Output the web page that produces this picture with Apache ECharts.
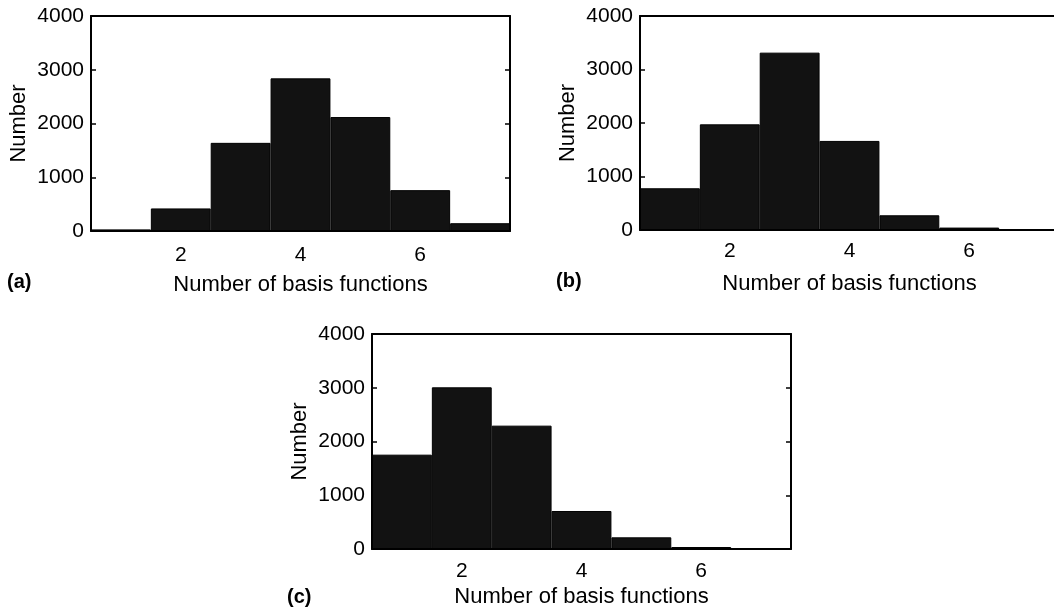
<!DOCTYPE html>
<html>
<head>
<meta charset="utf-8">
<script src="https://cdn.jsdelivr.net/npm/echarts@6/dist/echarts.min.js"></script>
<style>
  html, body { margin: 0; padding: 0; background: #fff; }
  #chart { width: 1054px; height: 607px; }
</style>
</head>
<body>
<div id="chart"></div>
<script>
// histogram bins (number of basis functions) and counts per panel
const categories = ['1', '2', '3', '4', '5', '6', '7'];
const countsA = [30, 420, 1640, 2840, 2120, 760, 145];
const countsB = [780, 1975, 3315, 1665, 275, 45, 5];
const countsC = [1755, 3008, 2295, 707, 217, 37, 5];
const panelTags = ['(a)', '(b)', '(c)'];
const xName = 'Number of basis functions';
const yName = 'Number';

const font = "'Liberation Sans', Arial, Helvetica, sans-serif";

// every second bin gets a label: 2, 4, 6
const everyOther = (i) => i % 2 === 1;

// panel (b) runs past the right edge of the page, as in the source figure
const panels = [
  { data: countsA, grid: { left: 91, top: 16, width: 419, height: 215 }, tag: { left: 7, top: 272 }, labelMargin: 14, nameGap: 43 },
  { data: countsB, grid: { left: 640, top: 16, width: 419, height: 214 }, tag: { left: 556, top: 271 }, labelMargin: 11, nameGap: 43 },
  { data: countsC, grid: { left: 372, top: 334, width: 419, height: 215 }, tag: { left: 287, top: 587 }, labelMargin: 12, nameGap: 37 },
];

const blackLine = { color: '#000', width: 2 };
const tickStyle = { color: '#000', width: 1.5 };

const grid = [];
const xAxis = [];
const yAxis = [];
const series = [];
const title = [];

panels.forEach((p, i) => {
  grid.push(Object.assign({ containLabel: false, outerBoundsMode: 'none' }, p.grid));

  xAxis.push({
    gridIndex: i,
    type: 'category',
    data: categories,
    position: 'bottom',
    axisLine: { onZero: false, lineStyle: blackLine },
    axisTick: { inside: true, alignWithLabel: true, interval: everyOther, length: 5, lineStyle: tickStyle },
    axisLabel: { interval: everyOther, color: '#000', fontSize: 21, fontFamily: font, margin: p.labelMargin },
    name: xName,
    nameLocation: 'middle',
    nameGap: p.nameGap,
    nameTextStyle: { color: '#000', fontSize: 22, fontFamily: font },
  });
  xAxis.push({
    gridIndex: i,
    type: 'category',
    data: categories,
    position: 'top',
    axisLine: { onZero: false, lineStyle: blackLine },
    axisTick: { inside: true, alignWithLabel: true, interval: everyOther, length: 5, lineStyle: tickStyle },
    axisLabel: { show: false },
  });

  yAxis.push({
    gridIndex: i,
    type: 'value',
    position: 'left',
    min: 0,
    max: 4000,
    interval: 1000,
    axisLine: { show: true, onZero: false, lineStyle: blackLine },
    axisTick: { show: true, inside: true, length: 5, lineStyle: tickStyle },
    axisLabel: { color: '#000', fontSize: 21, fontFamily: font, margin: 7, formatter: (v) => String(v) },
    splitLine: { show: false },
    name: yName,
    nameLocation: 'middle',
    nameGap: 61,
    nameTextStyle: { color: '#000', fontSize: 22, fontFamily: font },
  });
  yAxis.push({
    gridIndex: i,
    type: 'value',
    position: 'right',
    min: 0,
    max: 4000,
    interval: 1000,
    axisLine: { show: true, onZero: false, lineStyle: blackLine },
    axisTick: { show: true, inside: true, length: 5, lineStyle: tickStyle },
    axisLabel: { show: false },
    splitLine: { show: false },
  });

  series.push({
    type: 'bar',
    xAxisIndex: i * 2,
    yAxisIndex: i * 2,
    data: p.data,
    barWidth: '100%',
    barCategoryGap: '0%',
    itemStyle: { color: '#121212', borderColor: '#000', borderWidth: 1 },
  });

  title.push({
    text: panelTags[i],
    left: p.tag.left,
    top: p.tag.top,
    padding: 0,
    textStyle: { color: '#000', fontSize: 20, fontWeight: 'bold', fontFamily: font },
  });
});

const chart = echarts.init(document.getElementById('chart'));
chart.setOption({
  animation: false,
  backgroundColor: '#fff',
  title,
  grid,
  xAxis,
  yAxis,
  series,
});
</script>
</body>
</html>
